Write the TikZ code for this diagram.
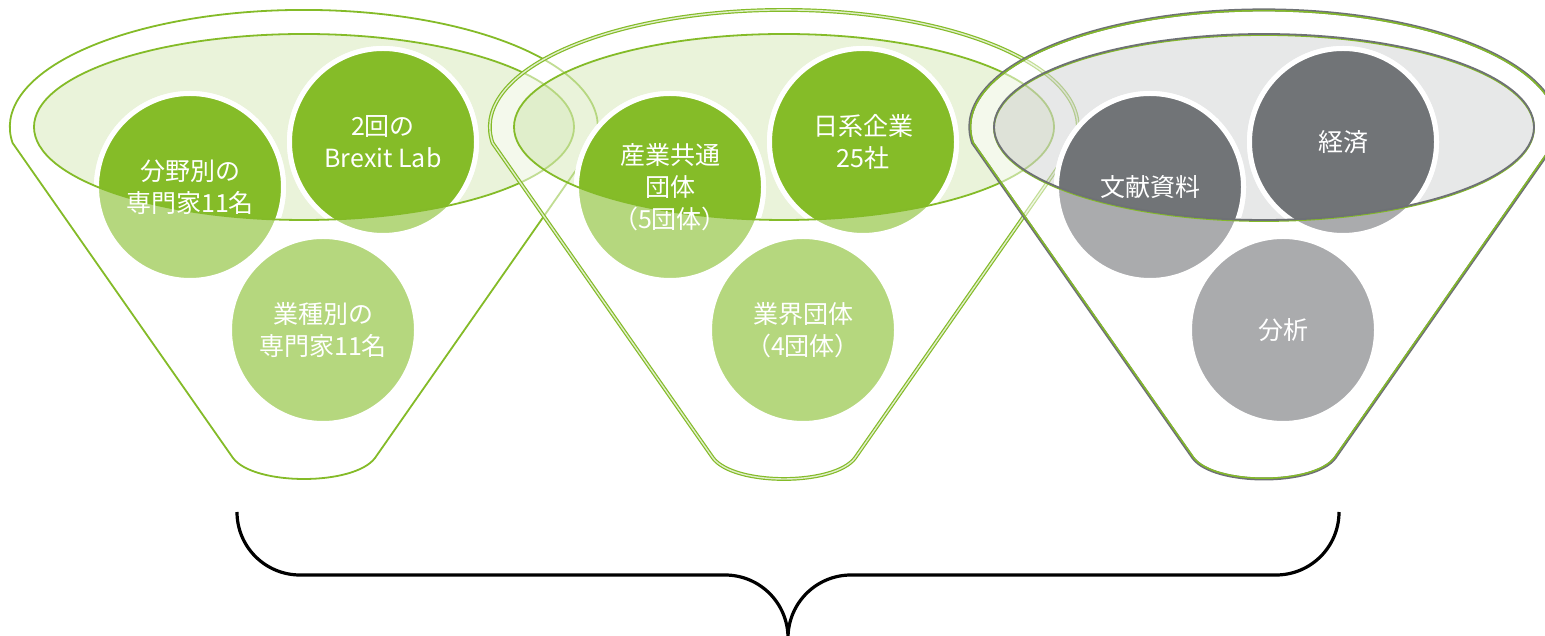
\documentclass[tikz,border=0pt]{standalone}
\usepackage{fontspec}
\setmainfont{Noto Sans CJK JP}
\definecolor{gdark}{HTML}{85BC28}
\definecolor{glight}{HTML}{B5D77E}
\definecolor{gline}{HTML}{84BB28}
\definecolor{kdark}{HTML}{717477}
\definecolor{klight}{HTML}{AAABAD}
\definecolor{kline}{HTML}{6E7175}
\def\funnelpath{(71,178) -- (291,493) arc[start angle=-7.9,end angle=187.9,x radius=294,y radius=117] -- (-71,178) .. controls (-50,150) and (50,150) .. cycle}
\def\rimpath{(0,509) ellipse[x radius=270,y radius=93]}
\begin{document}
\begin{tikzpicture}[x=0.5pt,y=0.5pt,
  shell/.style={fill=white, fill opacity=0.5},
  ball/.style={draw=white, line width=2.5pt},
  lbl/.style={text=white, align=center, font=\fontsize{12.5}{16}\selectfont, inner sep=0pt},
  thinline/.style={line width=0.9pt}]
\useasboundingbox (0,0) rectangle (1545,636);
\clip (0,0) rectangle (1545,636);

% ---------- funnel 1 ----------
\begin{scope}[xshift=152pt]
  \path[shell, draw=gline, thinline] \funnelpath;
  \path[fill=gline, fill opacity=0.17] \rimpath;
  \foreach \x/\y in {-114/449, 79/494, 19/306} \path[ball, fill=glight] (\x,\y) circle[radius=93.5];
  \begin{scope}
    \clip \rimpath;
    \foreach \x/\y in {-114/449, 79/494, 19/306} \path[ball, fill=gdark] (\x,\y) circle[radius=93.5];
  \end{scope}
  \draw[gline, thinline] \rimpath;
  \node[lbl] (a1) at (-114,449) {分野別の\\専門家11名};
  \node[lbl] (a2) at (79,494) {2回の\\Brexit Lab};
  \node[lbl] (a3) at (19,306) {業種別の\\専門家11名};
\end{scope}

% ---------- funnel 2 ----------
\begin{scope}[xshift=392pt]
  \path[shell, draw=gline, double=gline!25, double distance=0.7pt, line width=0.6pt] \funnelpath;
  \path[fill=gline, fill opacity=0.17] \rimpath;
  \foreach \x/\y in {-114/449, 79/494, 19/306} \path[ball, fill=glight] (\x,\y) circle[radius=93.5];
  \begin{scope}
    \clip \rimpath;
    \foreach \x/\y in {-114/449, 79/494, 19/306} \path[ball, fill=gdark] (\x,\y) circle[radius=93.5];
  \end{scope}
  \draw[gline, thinline] \rimpath;
  \node[lbl] (b1) at (-114,449) {産業共通\\団体\\（5団体）};
  \node[lbl] (b2) at (79,494) {日系企業\\25社};
  \node[lbl] (b3) at (19,306) {業界団体\\（4団体）};
\end{scope}

% ---------- funnel 3 ----------
\begin{scope}[xshift=632pt]
  \path[shell] \funnelpath;
  \draw[kline, line width=1.5pt] \funnelpath;
  \begin{scope}
    \clip \funnelpath;
    \draw[gline, line width=1.5pt] \funnelpath;
  \end{scope}
  \path[fill=kline, fill opacity=0.16] \rimpath;
  \foreach \x/\y in {-114/449, 79/494, 19/306} \path[ball, fill=klight] (\x,\y) circle[radius=93.5];
  \begin{scope}
    \clip \rimpath;
    \foreach \x/\y in {-114/449, 79/494, 19/306} \path[ball, fill=kdark] (\x,\y) circle[radius=93.5];
  \end{scope}
  \draw[gline, thinline, yshift=-0.5pt] \rimpath;
  \draw[kline, thinline] \rimpath;
  \node[lbl] (c1) at (-114,449) {文献資料};
  \node[lbl] (c2) at (79,494) {経済};
  \node[lbl] (c3) at (19,306) {分析};
\end{scope}

% ---------- brace ----------
\draw[line width=1.6pt] (237,124) arc[start angle=180,end angle=270,radius=63] -- (725,61)
  arc[start angle=90,end angle=0,radius=63] arc[start angle=180,end angle=90,radius=63]
  -- (1276,61) arc[start angle=270,end angle=360,radius=63];
\end{tikzpicture}
\end{document}
